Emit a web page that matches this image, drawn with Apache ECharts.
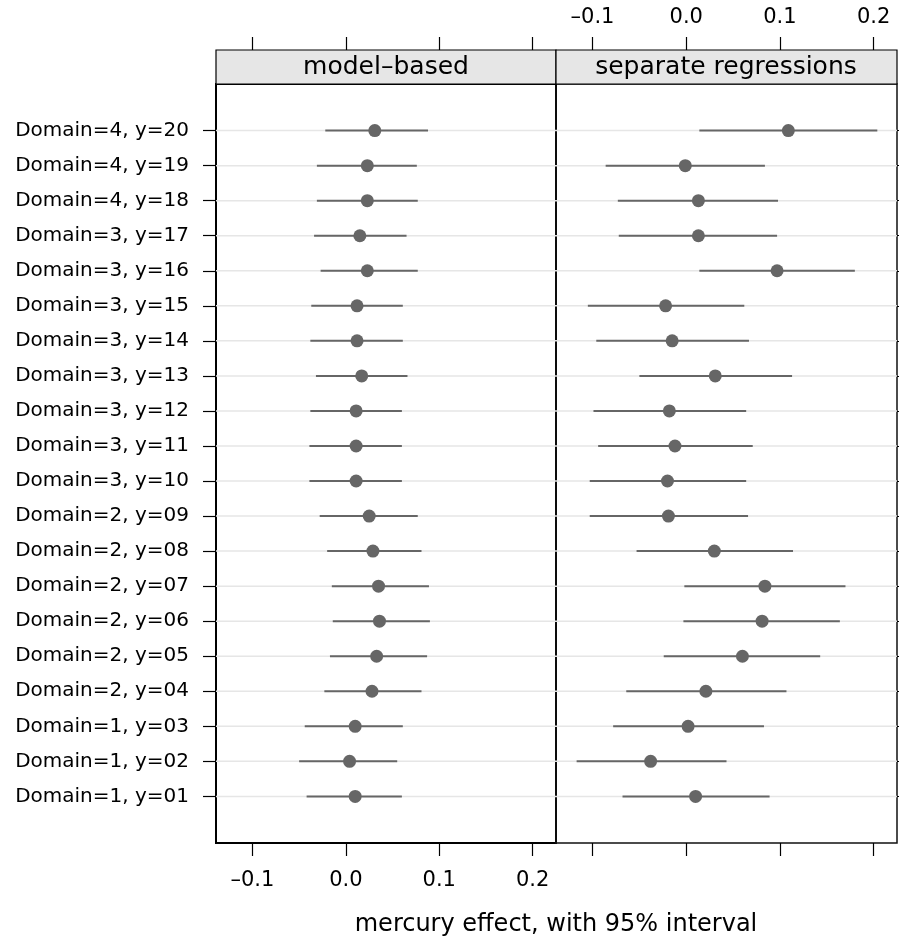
<!DOCTYPE html>
<html>
<head>
<meta charset="utf-8">
<script src="https://cdn.jsdelivr.net/npm/echarts@6/dist/echarts.min.js"></script>
<style>
  html, body { margin: 0; padding: 0; background: #fff; }
  #chart { width: 899px; height: 942px; }
</style>
</head>
<body>
<div id="chart"></div>
<script>
// rows from bottom (y=01) to top (y=20)
const rowLabels = [
    'Domain=1, y=01', 'Domain=1, y=02', 'Domain=1, y=03',
    'Domain=2, y=04', 'Domain=2, y=05', 'Domain=2, y=06', 'Domain=2, y=07',
    'Domain=2, y=08', 'Domain=2, y=09',
    'Domain=3, y=10', 'Domain=3, y=11', 'Domain=3, y=12', 'Domain=3, y=13',
    'Domain=3, y=14', 'Domain=3, y=15', 'Domain=3, y=16', 'Domain=3, y=17',
    'Domain=4, y=18', 'Domain=4, y=19', 'Domain=4, y=20'
];
const panelNames = ['model\u2013based', 'separate regressions'];

// model-based estimates and 95% limits
const modelEst = [0.010, 0.004, 0.010, 0.028, 0.033, 0.036, 0.035, 0.029, 0.025, 0.011,
                  0.011, 0.011, 0.017, 0.012, 0.012, 0.023, 0.015, 0.023, 0.023, 0.031];
const modelLo = [-0.042, -0.050, -0.044, -0.023, -0.017, -0.014, -0.015, -0.020, -0.028, -0.039,
                 -0.039, -0.038, -0.032, -0.038, -0.037, -0.027, -0.034, -0.031, -0.031, -0.022];
const modelHi = [0.060, 0.055, 0.061, 0.081, 0.087, 0.090, 0.089, 0.081, 0.077, 0.060,
                 0.060, 0.060, 0.066, 0.061, 0.061, 0.077, 0.065, 0.077, 0.076, 0.088];

// separate regressions
const sepEst = [0.010, -0.038, 0.002, 0.021, 0.060, 0.081, 0.084, 0.030, -0.019, -0.020,
                -0.012, -0.018, 0.031, -0.015, -0.022, 0.097, 0.013, 0.013, -0.001, 0.109];
const sepLo = [-0.068, -0.117, -0.078, -0.064, -0.024, -0.003, -0.002, -0.053, -0.103, -0.103,
               -0.094, -0.099, -0.050, -0.096, -0.105, 0.014, -0.072, -0.073, -0.086, 0.014];
const sepHi = [0.089, 0.043, 0.083, 0.107, 0.143, 0.164, 0.170, 0.114, 0.066, 0.064,
               0.071, 0.064, 0.113, 0.067, 0.062, 0.180, 0.097, 0.098, 0.084, 0.204];

const xTicks = [-0.1, 0.0, 0.1, 0.2];
const xTitle = 'mercury effect, with 95% interval';

const FONT = 'DejaVu Sans';
const rowIdx = rowLabels.map((_, i) => i);

function fmtX(v) {
    const s = Math.abs(v).toFixed(1);
    return v < -1e-9 ? '\u2013' + s : s;
}

function buildRows(lo, est, hi) {
    return rowIdx.map(i => [i, lo[i], est[i], hi[i]]);
}

function renderRow(params, api) {
    const y = api.value(0);
    const lo = api.coord([api.value(1), y]);
    const mid = api.coord([api.value(2), y]);
    const hi = api.coord([api.value(3), y]);
    const cs = params.coordSys;
    return {
        type: 'group',
        children: [
            { type: 'line', shape: { x1: cs.x, y1: mid[1], x2: cs.x + cs.width, y2: mid[1] },
              style: { stroke: '#e6e6e6', lineWidth: 1.5 } },
            { type: 'line', shape: { x1: lo[0], y1: lo[1], x2: hi[0], y2: hi[1] },
              style: { stroke: '#666666', lineWidth: 2 } },
            { type: 'circle', shape: { cx: mid[0], cy: mid[1], r: 6.5 },
              style: { fill: '#666666' } }
        ]
    };
}

function xAxisDef(gridIndex, position, showLabels) {
    return {
        type: 'value',
        gridIndex: gridIndex,
        position: position,
        offset: position === 'top' ? 34 : 0,
        min: -0.139,
        max: 0.225,
        axisLine: { show: false, onZero: false },
        splitLine: { show: false },
        axisTick: { show: true, customValues: xTicks, length: 13, lineStyle: { color: '#000', width: 1.2 } },
        axisLabel: {
            show: showLabels,
            customValues: xTicks,
            formatter: fmtX,
            margin: position === 'top' ? 22 : 27,
            fontFamily: FONT,
            fontSize: 21,
            color: '#000'
        }
    };
}

function yAxisDef(gridIndex, position, showLabels) {
    return {
        type: 'value',
        gridIndex: gridIndex,
        position: position,
        min: -1.33,
        max: 20.33,
        axisLine: { show: false, onZero: false },
        splitLine: { show: false },
        axisTick: { show: true, customValues: rowIdx, length: 13, lineStyle: { color: '#000', width: 1.2 } },
        axisLabel: {
            show: showLabels,
            customValues: rowIdx,
            formatter: v => rowLabels[Math.round(v)],
            margin: 27,
            fontFamily: FONT,
            fontSize: 20,
            color: '#000'
        }
    };
}

const chart = echarts.init(document.getElementById('chart'));

const option = {
    animation: false,
    backgroundColor: '#fff',
    grid: [
        { left: 216, top: 84, width: 340, height: 759, show: true, borderColor: '#000', borderWidth: 2 },
        { left: 556, top: 84, width: 341, height: 759, show: true, borderColor: '#111', borderWidth: 1.5 }
    ],
    xAxis: [
        xAxisDef(0, 'bottom', true),
        xAxisDef(0, 'top', false),
        xAxisDef(1, 'bottom', false),
        xAxisDef(1, 'top', true)
    ],
    yAxis: [
        yAxisDef(0, 'left', true),
        yAxisDef(1, 'right', false)
    ],
    series: [
        {
            name: panelNames[0],
            type: 'custom',
            xAxisIndex: 0,
            yAxisIndex: 0,
            renderItem: renderRow,
            encode: { x: [1, 2, 3], y: 0 },
            data: buildRows(modelLo, modelEst, modelHi)
        },
        {
            name: panelNames[1],
            type: 'custom',
            xAxisIndex: 2,
            yAxisIndex: 1,
            renderItem: renderRow,
            encode: { x: [1, 2, 3], y: 0 },
            data: buildRows(sepLo, sepEst, sepHi)
        }
    ],
    graphic: [
        { type: 'rect', shape: { x: 216, y: 50, width: 340, height: 34 },
          style: { fill: '#e6e6e6', stroke: '#000', lineWidth: 1.2 } },
        { type: 'rect', shape: { x: 556, y: 50, width: 341, height: 34 },
          style: { fill: '#e6e6e6', stroke: '#000', lineWidth: 1.2 } },
        { type: 'text', x: 386, y: 67,
          style: { text: panelNames[0], font: '25px "DejaVu Sans"', fill: '#000',
                   textAlign: 'center', textVerticalAlign: 'middle' } },
        { type: 'text', x: 726, y: 67,
          style: { text: panelNames[1], font: '25px "DejaVu Sans"', fill: '#000',
                   textAlign: 'center', textVerticalAlign: 'middle' } },
        { type: 'text', x: 556, y: 925,
          style: { text: xTitle, font: '24px "DejaVu Sans"', fill: '#000',
                   textAlign: 'center', textVerticalAlign: 'middle' } }
    ]
};

chart.setOption(option);
</script>
</body>
</html>
